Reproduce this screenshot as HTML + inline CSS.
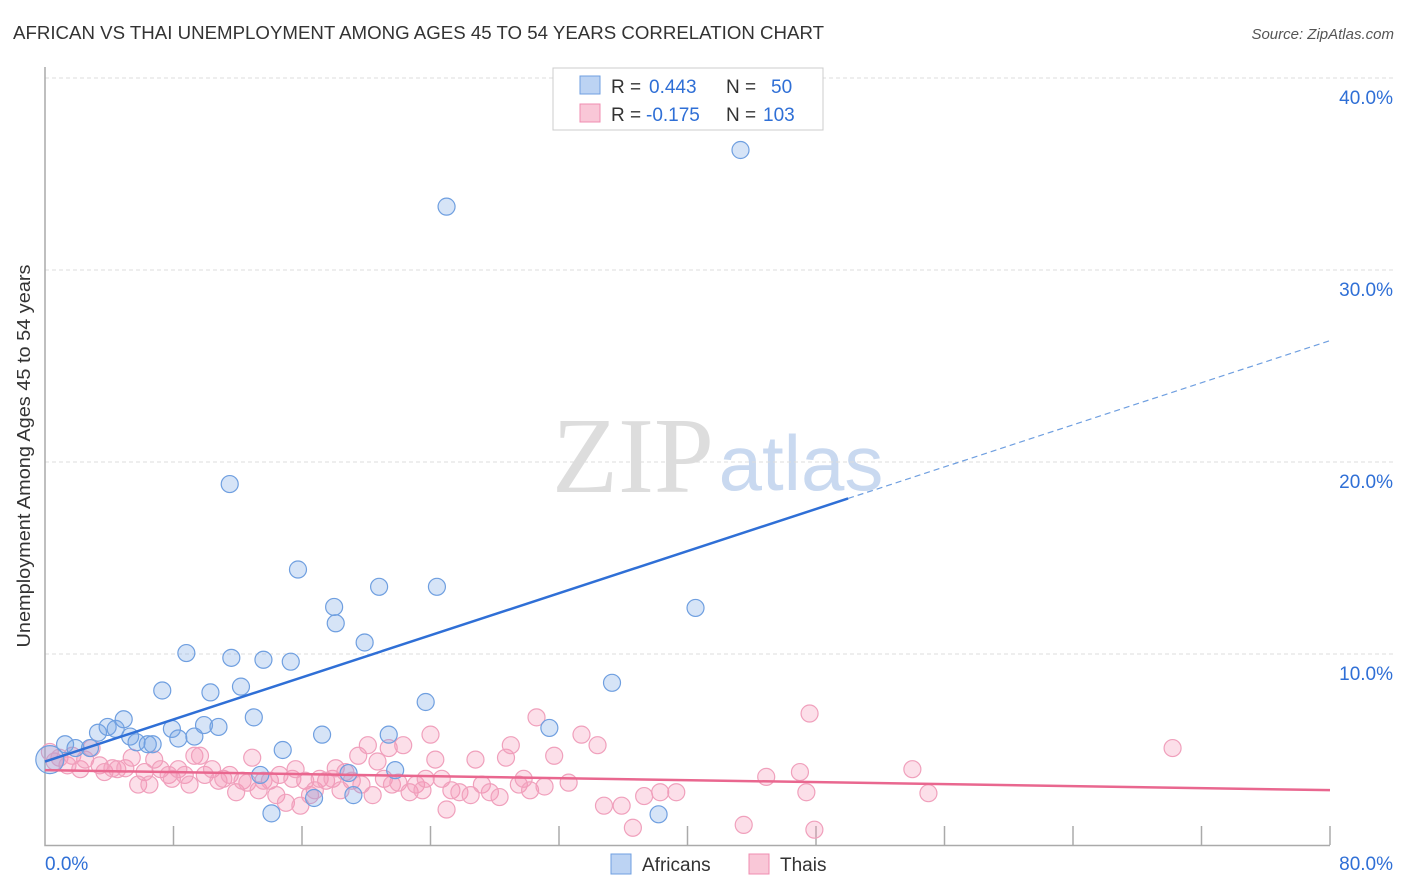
<!DOCTYPE html>
<html><head><meta charset="utf-8"><style>
body{margin:0;background:#fff;font-family:"Liberation Sans",sans-serif;}
svg{display:block}
</style></head><body>
<svg id="chart" width="1406" height="892" xmlns="http://www.w3.org/2000/svg">
<text x="13" y="39" font-size="18" fill="#333" textLength="811" lengthAdjust="spacingAndGlyphs">AFRICAN VS THAI UNEMPLOYMENT AMONG AGES 45 TO 54 YEARS CORRELATION CHART</text>
<text x="1394" y="39" font-size="15" fill="#555" font-style="italic" text-anchor="end">Source: ZipAtlas.com</text>
<text x="633" y="492" font-size="108" fill="#ddd" font-family="Liberation Serif,serif" text-anchor="middle">ZIP</text>
<text x="801" y="490" font-size="78" fill="#c9d9f0" text-anchor="middle">atlas</text>
<g id="grid"></g>
<g id="axes"></g>
<g id="marks"></g>
<text x="30" y="456" font-size="18" fill="#333" text-anchor="middle" textLength="383" lengthAdjust="spacingAndGlyphs" transform="rotate(-90 30 456)">Unemployment Among Ages 45 to 54 years</text>
<g>
<rect x="553" y="68" width="270" height="62" fill="#fff" stroke="#ccc"/>
<rect x="580" y="76" width="20" height="18" fill="#bcd3f3" stroke="#6f9fe0"/>
<rect x="580" y="104" width="20" height="18" fill="#f9c7d7" stroke="#f08cb0"/>
<text x="611" y="93" font-size="19" fill="#333">R =</text><text x="649" y="93" font-size="19" fill="#2f6fd6">0.443</text>
<text x="726" y="93" font-size="19" fill="#333">N =</text><text x="771" y="93" font-size="19" fill="#2f6fd6">50</text>
<text x="611" y="121" font-size="19" fill="#333">R =</text><text x="646" y="121" font-size="19" fill="#2f6fd6">-0.175</text>
<text x="726" y="121" font-size="19" fill="#333">N =</text><text x="763" y="121" font-size="19" fill="#2f6fd6">103</text>
</g>
<g>
<rect x="611" y="854" width="20" height="20" fill="#bcd3f3" stroke="#6f9fe0"/>
<text x="642" y="871" font-size="19" fill="#333">Africans</text>
<rect x="749" y="854" width="20" height="20" fill="#f9c7d7" stroke="#f08cb0"/>
<text x="780" y="871" font-size="19" fill="#333">Thais</text>
</g>
</svg>
<script>
const blueX=[0.3,1.25,1.9,2.8,3.3,3.9,4.4,4.9,5.3,5.7,6.4,6.7,7.3,7.9,8.3,8.8,9.3,9.9,10.3,10.8,11.5,11.6,12.2,13.0,13.6,13.4,14.1,14.8,15.3,15.75,16.75,17.25,18.0,18.1,18.9,19.2,19.9,20.8,21.4,21.8,23.7,24.4,25.0,31.4,35.3,38.2,40.5,43.3];
const blueY=[4.5,5.3,5.1,5.1,5.9,6.2,6.1,6.6,5.7,5.4,5.3,5.3,8.1,6.1,5.6,10.05,5.7,6.3,8.0,6.2,18.85,9.8,8.3,6.7,9.7,3.7,1.7,5.0,9.6,14.4,2.5,5.8,12.45,11.6,3.8,2.65,10.6,13.5,5.8,3.95,7.5,13.5,33.3,6.15,8.5,1.65,12.4,36.25];
const pinkX=[0.3,0.6,0.9,1.4,1.7,2.2,2.5,2.9,3.4,3.7,4.2,4.5,5.0,5.4,5.8,6.2,6.5,6.8,7.2,7.7,7.9,8.3,8.7,9.0,9.3,9.65,9.95,10.4,10.8,11.1,11.5,11.9,12.3,12.6,12.9,13.3,13.6,14.0,14.4,14.6,15.0,15.4,15.6,15.9,16.2,16.5,16.8,17.1,17.5,17.9,18.1,18.4,18.7,19.1,19.5,19.7,20.1,20.4,20.7,21.1,21.4,21.6,22.0,22.3,22.7,23.1,23.5,23.7,24.0,24.3,24.7,25.0,25.3,25.8,26.5,26.8,27.2,27.7,28.3,28.7,29.0,29.5,29.8,30.2,30.6,31.1,31.7,32.6,33.4,34.4,34.8,35.9,36.6,37.3,38.3,39.3,43.5,44.9,47.0,47.4,47.6,47.9,54.0,55.0,70.2];
const pinkY=[4.9,4.4,4.6,4.2,4.7,4.0,4.5,5.1,4.2,3.85,4.05,4.0,4.05,4.6,3.2,3.85,3.2,4.5,4.0,3.7,3.5,4.0,3.7,3.2,4.7,4.7,3.7,4.0,3.4,3.5,3.7,2.8,3.4,3.3,4.6,2.9,3.4,3.4,2.65,3.7,2.25,3.5,4.0,2.1,3.4,2.65,2.9,3.5,3.4,3.5,4.05,2.9,3.85,3.4,4.7,3.2,5.25,2.65,4.4,3.5,5.1,3.2,3.3,5.25,2.8,3.2,2.9,3.5,5.8,4.5,3.5,1.9,2.9,2.8,2.65,4.5,3.2,2.8,2.55,4.6,5.25,3.2,3.5,2.9,6.7,3.1,4.7,3.3,5.8,5.25,2.1,2.1,0.95,2.6,2.8,2.8,1.1,3.6,3.85,2.8,6.9,0.85,4.0,2.75,5.1];
const blueTrend=[4.4,0.274];
const pinkTrend=[3.95,-0.013];
const yTicks=[10,20,30,40];
const yTickLabels=["10.0%","20.0%","30.0%","40.0%"];
const xTicks=[0,8,16,24,32,40,48,56,64,72,80];

const NS="http://www.w3.org/2000/svg";
const X=v=>45+v*(1285/80);
const Y=v=>846-v*19.2;
function mk(tag,attrs,parent){const e=document.createElementNS(NS,tag);for(const k in attrs)e.setAttribute(k,attrs[k]);parent.appendChild(e);return e;}
const grid=document.getElementById('grid'),axes=document.getElementById('axes'),marks=document.getElementById('marks');
yTicks.forEach((t,i)=>{
  const l=mk('line',{x1:45,x2:1394,y1:Y(t),y2:Y(t),stroke:'#ddd','stroke-dasharray':'4 3'},grid);
  
  
  const tx=mk('text',{x:1393,y:Y(t)+26,'font-size':19,fill:'#2f6fd6','text-anchor':'end'},axes);
  tx.textContent=yTickLabels[i];
  
  
});
const ax=mk('path',{d:`M45 67 V845.5 H1330`,stroke:'#aaa',fill:'none','stroke-width':1.5},axes);


xTicks.forEach(t=>{
  if(t===0)return;
  const l=mk('line',{x1:X(t),x2:X(t),y1:826,y2:845,stroke:'#aaa','stroke-width':1.5},axes);
  
  
});
const x0=mk('text',{x:45,y:870,'font-size':19,fill:'#2f6fd6'},axes);x0.textContent='0.0%';


const x1=mk('text',{x:1393,y:870,'font-size':19,fill:'#2f6fd6','text-anchor':'end'},axes);x1.textContent='80.0%';



pinkX.forEach((v,i)=>{
  const c=mk('circle',{cx:X(v),cy:Y(pinkY[i]),r:8.5,fill:'rgba(244,150,182,0.3)',stroke:'#f0a0bc','stroke-width':1.2},marks);
  
  
});
blueX.forEach((v,i)=>{
  const c=mk('circle',{cx:X(v),cy:Y(blueY[i]),r:i===0?14:8.5,fill:'rgba(120,165,230,0.3)',stroke:'#6f9fe0','stroke-width':1.2},marks);
  
  
});
const bl=mk('line',{x1:X(0),y1:Y(blueTrend[0]),x2:X(50),y2:Y(blueTrend[0]+blueTrend[1]*50),stroke:'#2f6fd6','stroke-width':2.5},marks);


const bd=mk('line',{x1:X(50),y1:Y(blueTrend[0]+blueTrend[1]*50),x2:X(80),y2:Y(blueTrend[0]+blueTrend[1]*80),stroke:'#6f9fe0','stroke-width':1.2,'stroke-dasharray':'6 4'},marks);


const pl=mk('line',{x1:X(0),y1:Y(pinkTrend[0]),x2:X(80),y2:Y(pinkTrend[0]+pinkTrend[1]*80),stroke:'#e9678f','stroke-width':2.5},marks);


</script>
</body></html>
